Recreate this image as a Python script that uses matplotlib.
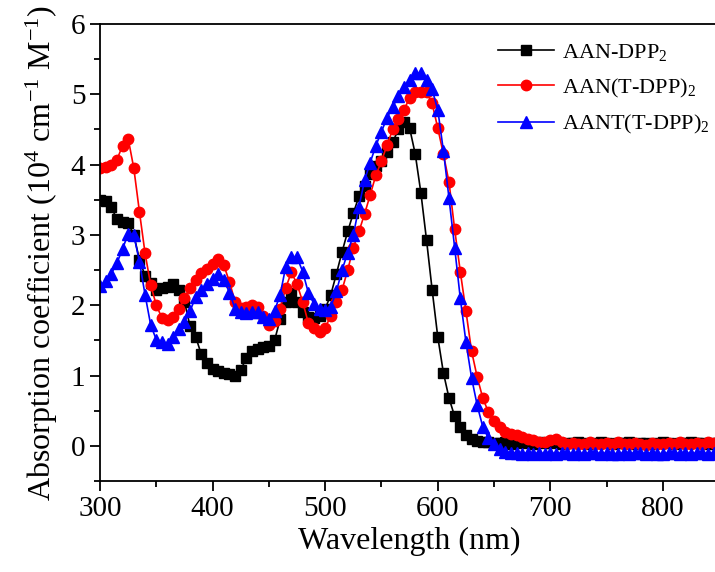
import numpy as np
import matplotlib
matplotlib.use("Agg")
from matplotlib import pyplot as plt
from matplotlib.ticker import MultipleLocator

# absorption spectra, 5 nm steps from 300 to 850 nm (units of 10^4 cm-1 M-1)
wavelength = list(range(300, 855, 5))

aan_dpp2 = [
    3.50, 3.48, 3.40, 3.22, 3.18, 3.17, 3.00, 2.65, 2.42, 2.32,
    2.22, 2.24, 2.26, 2.30, 2.22, 2.05, 1.70, 1.55, 1.30, 1.18,
    1.10, 1.06, 1.04, 1.02, 1.00, 1.08, 1.25, 1.35, 1.38, 1.40,
    1.42, 1.50, 1.80, 2.05, 2.17, 2.05, 1.90, 1.83, 1.82, 1.85,
    1.95, 2.15, 2.45, 2.76, 3.05, 3.31, 3.55, 3.70, 3.86, 3.98,
    4.05, 4.18, 4.32, 4.50, 4.61, 4.52, 4.15, 3.60, 2.93, 2.22,
    1.55, 1.04, 0.68, 0.42, 0.27, 0.16, 0.10, 0.07, 0.05, 0.05,
    0.04, 0.04, 0.05, 0.03, 0.04, 0.05, 0.04, 0.03, 0.05, 0.04,
    0.04, 0.05, 0.03, 0.04, 0.04, 0.05, 0.04, 0.03, 0.04, 0.05,
    0.04, 0.03, 0.04, 0.04, 0.05, 0.03, 0.04, 0.04, 0.03, 0.04,
    0.05, 0.04, 0.03, 0.04, 0.04, 0.05, 0.04, 0.04, 0.03, 0.04,
    0.04,
]

aan_t_dpp2 = [
    3.95, 3.97, 4.00, 4.07, 4.27, 4.37, 3.95, 3.33, 2.74, 2.29,
    2.00, 1.82, 1.79, 1.84, 1.95, 2.10, 2.25, 2.36, 2.46, 2.52,
    2.58, 2.66, 2.57, 2.33, 2.05, 1.96, 1.97, 2.00, 1.98, 1.85,
    1.72, 1.78, 1.95, 2.25, 2.47, 2.30, 2.05, 1.75, 1.67, 1.62,
    1.68, 1.85, 2.05, 2.22, 2.50, 2.82, 3.05, 3.30, 3.57, 3.85,
    4.05, 4.28, 4.50, 4.65, 4.78, 4.95, 5.03, 5.04, 5.03, 4.87,
    4.52, 4.15, 3.75, 3.08, 2.48, 1.92, 1.35, 0.98, 0.68, 0.48,
    0.35, 0.27, 0.20, 0.17, 0.15, 0.12, 0.10, 0.08, 0.06, 0.05,
    0.08, 0.10, 0.05, 0.03, 0.04, 0.02, 0.03, 0.05, 0.03, 0.02,
    0.04, 0.02, 0.05, 0.03, 0.02, 0.04, 0.03, 0.01, 0.04, 0.03,
    0.02, 0.04, 0.03, 0.05, 0.02, 0.03, 0.04, 0.02, 0.05, 0.04,
    0.03,
]

aant_t_dpp2 = [
    2.27, 2.35, 2.45, 2.60, 2.80, 3.02, 3.00, 2.62, 2.15, 1.72,
    1.51, 1.48, 1.45, 1.55, 1.66, 1.76, 1.92, 2.12, 2.22, 2.30,
    2.38, 2.45, 2.36, 2.18, 1.95, 1.90, 1.89, 1.90, 1.90, 1.84,
    1.80, 1.92, 2.15, 2.55, 2.69, 2.68, 2.48, 2.18, 2.02, 1.94,
    1.93, 1.98, 2.20, 2.50, 2.75, 3.00, 3.40, 3.78, 4.03, 4.27,
    4.47, 4.67, 4.82, 4.98, 5.11, 5.20, 5.30, 5.30, 5.20, 5.07,
    4.78, 4.20, 3.52, 2.82, 2.10, 1.48, 0.97, 0.58, 0.27, 0.11,
    0.02, -0.04, -0.08, -0.10, -0.10, -0.11, -0.10, -0.11, -0.10, -0.11,
    -0.10, -0.11, -0.10, -0.10, -0.11, -0.10, -0.11, -0.10, -0.10, -0.11,
    -0.10, -0.11, -0.11, -0.10, -0.11, -0.10, -0.10, -0.11, -0.10, -0.11,
    -0.11, -0.10, -0.10, -0.11, -0.10, -0.11, -0.10, -0.10, -0.11, -0.10,
    -0.10,
]

labels = ["AAN-DPP$_\\mathregular{2}$", "AAN(T-DPP)$_\\mathregular{2}$",
          "AANT(T-DPP)$_\\mathregular{2}$"]


def main():
    plt.rcParams["font.family"] = ["Liberation Serif", "DejaVu Serif"]
    plt.rcParams["mathtext.fontset"] = "custom"
    plt.rcParams["mathtext.rm"] = "Liberation Serif"
    plt.rcParams["mathtext.it"] = "Liberation Serif:italic"

    fig = plt.figure(figsize=(7.15, 5.72), dpi=100)
    ax = fig.add_axes([0.1399, 0.159, 0.866, 0.799])

    ax.plot(wavelength, aan_dpp2, color="black", marker="s", markersize=6.5,
            linewidth=1.2, label=labels[0])
    ax.plot(wavelength, aan_t_dpp2, color="red", marker="o", markersize=7.5,
            linewidth=1.2, label=labels[1])
    ax.plot(wavelength, aant_t_dpp2, color="blue", marker="^", markersize=8,
            linewidth=1.2, label=labels[2])

    ax.set_xlim(300, 850)
    ax.set_ylim(-0.5, 6)
    ax.xaxis.set_major_locator(MultipleLocator(100))
    ax.xaxis.set_minor_locator(MultipleLocator(50))
    ax.yaxis.set_major_locator(MultipleLocator(1))
    ax.yaxis.set_minor_locator(MultipleLocator(0.5))
    ax.tick_params(which="both", direction="out", width=1.3, labelsize=21,
                   top=False, right=False)
    ax.tick_params(which="major", length=7)
    ax.tick_params(which="minor", length=4)
    for s in ax.spines.values():
        s.set_linewidth(1.3)

    ax.set_xlabel("Wavelength (nm)", fontsize=23)
    ax.set_ylabel("Absorption coefficient (10$^\\mathregular{4}$ cm$^\\mathregular{-1}$ M$^\\mathregular{-1}$)",
                  fontsize=23, labelpad=8)

    ax.legend(loc="upper right", bbox_to_anchor=(1.016, 1.004), frameon=False,
              fontsize=16, handlelength=2.5, handletextpad=0.35,
              labelspacing=0.6)

    fig.savefig("out.png", dpi=100)


if __name__ == "__main__":
    main()
